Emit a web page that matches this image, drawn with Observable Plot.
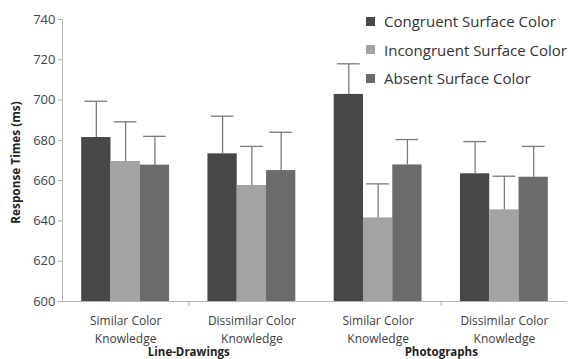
<!DOCTYPE html>
<html>
<head>
<meta charset="utf-8">
<script src="https://cdn.jsdelivr.net/npm/d3@7"></script>
<script src="https://cdn.jsdelivr.net/npm/@observablehq/plot@0.6"></script>
<style>
  html, body { margin: 0; padding: 0; background: #fff; }
  #wrap { position: relative; width: 569px; height: 359px; font-family: "Open Sans", sans-serif; }
  #legend { position: absolute; left: 366px; top: 7px; color: #333; font-size: 15px; }
  #legend .row { display: flex; align-items: center; height: 28.5px; }
  #legend .sw { width: 9px; height: 9px; margin-right: 9px; }
</style>
</head>
<body>
<div id="wrap"></div>
<script>
const categories = ["Similar Color\nKnowledge", "Dissimilar Color\nKnowledge", "Similar Color\nKnowledge", "Dissimilar Color\nKnowledge"];
const groups = ["Line-Drawings", "Photographs"];
const conditions = ["Congruent Surface Color", "Incongruent Surface Color", "Absent Surface Color"];
const colors = ["#474747", "#a3a3a3", "#6b6b6b"];
const congruent = [681.4, 673.3, 702.8, 663.4];
const incongruent = [669.5, 657.6, 641.5, 645.5];
const absent = [667.7, 665.0, 667.8, 661.7];
const congruentErr = [18.0, 18.7, 15.2, 16.0];
const incongruentErr = [19.7, 19.4, 16.9, 16.7];
const absentErr = [14.3, 19.0, 12.6, 15.3];
const yTicks = [600, 620, 640, 660, 680, 700, 720, 740];

const series = [congruent, incongruent, absent];
const errs = [congruentErr, incongruentErr, absentErr];
const data = [];
categories.forEach((c, i) => {
  conditions.forEach((cond, j) => {
    data.push({cat: i, cond: j, condition: cond, value: series[j][i], err: errs[j][i]});
  });
});
const bw = 0.232;
const center = d => d.cat + (d.cond - 1) * bw;

const plot = Plot.plot({
  width: 569,
  height: 359,
  marginLeft: 62,
  marginRight: 2,
  marginTop: 19,
  marginBottom: 58,
  style: {fontFamily: "Open Sans, sans-serif", color: "#404040", background: "#fff", overflow: "visible"},
  x: {type: "linear", domain: [-0.5, 3.5], axis: null},
  y: {type: "linear", domain: [600, 740], axis: null},
  color: {domain: conditions, range: colors},
  marks: [
    Plot.axisY({ticks: yTicks, tickSize: 4, tickPadding: 3, fontSize: 13, stroke: "#aaa", tickFormat: d3.format("d"), label: null, color: "#444"}),
    Plot.rect(data, {x1: d => center(d) - bw / 2, x2: d => center(d) + bw / 2, y1: 600, y2: "value", fill: "condition"}),
    Plot.ruleX(data, {x: center, y1: "value", y2: d => d.value + d.err, stroke: "#7a7a7a", strokeWidth: 1.3}),
    Plot.ruleY(data, {y: d => d.value + d.err, x1: d => center(d) - 0.09, x2: d => center(d) + 0.09, stroke: "#7a7a7a", strokeWidth: 1.3}),
    Plot.ruleX([-0.5], {y1: 600, y2: 740, stroke: "#b5b5b5"}),
    Plot.ruleY([600], {x1: -0.5, x2: 3.5, stroke: "#b5b5b5"}),
    Plot.ruleX([0.5, 2.5], {y1: 600, y2: 597.6, stroke: "#aaa"}),
    Plot.text(categories, {x: (d, i) => i, y: 600, text: d => d, dy: 11.5, lineAnchor: "top", lineHeight: 1.45, fontSize: 12, fill: "#404040"}),
    Plot.text(groups, {x: (d, i) => 0.5 + 2 * i, y: 600, text: d => d, dy: 46.5, lineAnchor: "top", fontSize: 11.5, fontWeight: "bold", fill: "#222"}),
    Plot.text(["Response Times (ms)"], {x: -0.5, y: 669, text: d => d, rotate: -90, dx: -46, fontSize: 11.8, fontWeight: "bold", fill: "#222"})
  ]
});
const wrap = document.getElementById("wrap");
wrap.appendChild(plot);
const legend = document.createElement("div");
legend.id = "legend";
conditions.forEach((c, j) => {
  const row = document.createElement("div");
  row.className = "row";
  const sw = document.createElement("span");
  sw.className = "sw";
  sw.style.background = colors[j];
  const t = document.createElement("span");
  t.textContent = c;
  row.appendChild(sw);
  row.appendChild(t);
  legend.appendChild(row);
});
wrap.appendChild(legend);
</script>
</body>
</html>
